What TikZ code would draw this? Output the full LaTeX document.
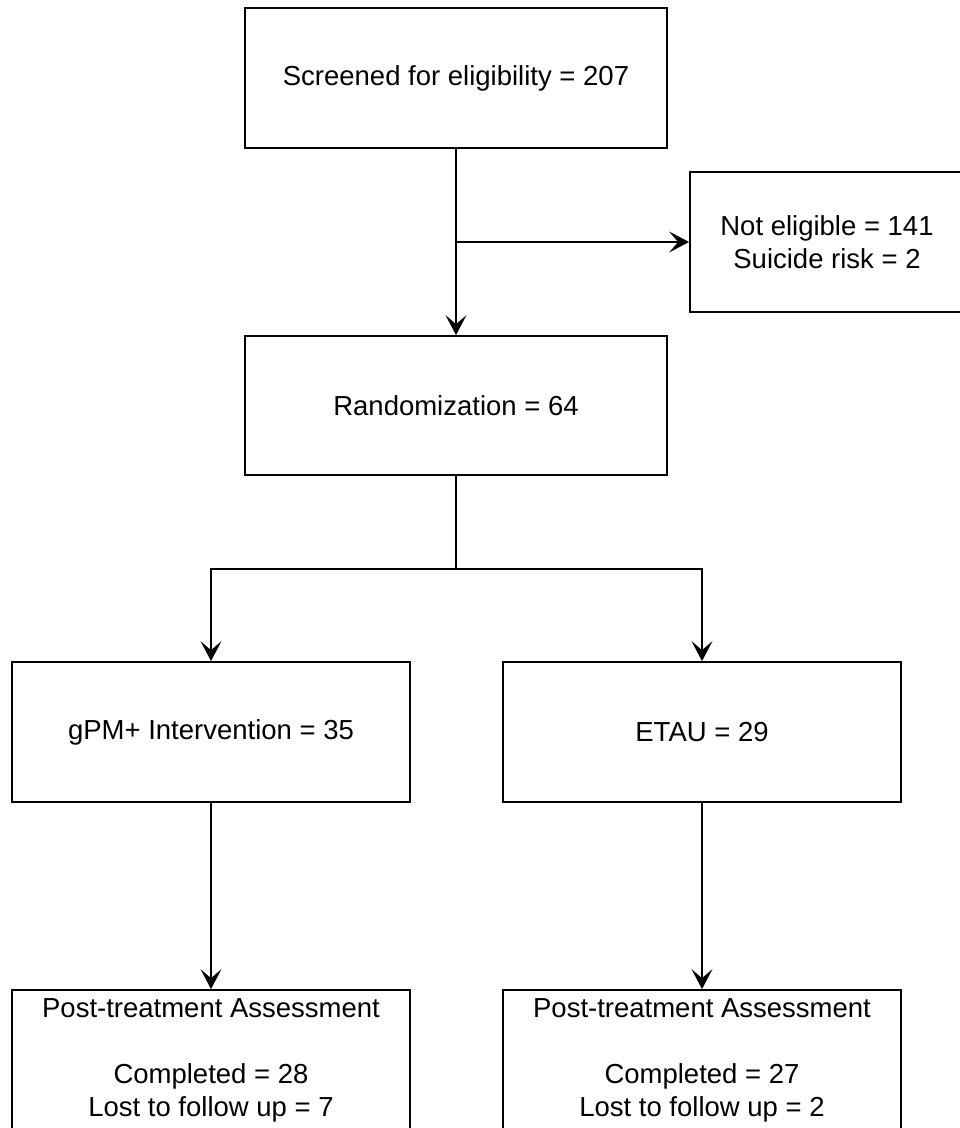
\documentclass[tikz,border=0pt]{standalone}
\usepackage{fontspec}
\setmainfont{Liberation Sans}
\newcommand\mydowntip[1]{\fill[black] (#1) -- ++(-10.5,-20) -- ++(10.5,9) -- ++(10.5,-9) -- cycle;}
\newcommand\myrighttip[1]{\fill[black] (#1) -- ++(-20,-10.5) -- ++(9,10.5) -- ++(-9,10.5) -- cycle;}
\begin{document}
\begin{tikzpicture}[x=1pt,y=-1pt,
  box/.style={draw=black, line width=1.8pt, inner sep=0pt, align=center,
    font=\fontsize{27.5}{33}\selectfont, fill=white},
  conn/.style={draw=black, line width=1.8pt},
  arr/.style={conn, shorten >=10pt}]
\useasboundingbox[fill=white] (0,0) rectangle (960,1128);
\node[box, minimum width=422pt, minimum height=140pt] (screen) at (456,78) {Screened for eligibility = 207};
\node[box, minimum width=274pt, minimum height=140pt] (ne) at (827,242) {Not eligible = 141\\Suicide risk = 2};
\node[box, minimum width=422pt, minimum height=139pt] (rand) at (456,405.5) {Randomization = 64};
\node[box, minimum width=398pt, minimum height=140pt] (gpm) at (211,732) {gPM+ Intervention = 35};
\node[box, minimum width=398pt, minimum height=140pt] (etau) at (702,732) {ETAU = 29};
\node[box, minimum width=398pt, minimum height=140pt] (post1) at (211,1060) {Post-treatment Assessment\\[33pt]Completed = 28\\Lost to follow up = 7};
\node[box, minimum width=398pt, minimum height=140pt] (post2) at (702,1060) {Post-treatment Assessment\\[33pt]Completed = 27\\Lost to follow up = 2};
\coordinate (j1) at (screen.south |- ne.west);
\coordinate (split) at (456,569);
\draw[arr] (screen.south) -- (rand.north);
\draw[arr] (j1) -- (ne.west);
\draw[conn] (rand.south) -- (split);
\draw[arr] (split) -| (gpm.north);
\draw[arr] (split) -| (etau.north);
\draw[arr] (gpm.south) -- (post1.north);
\draw[arr] (etau.south) -- (post2.north);
\mydowntip{rand.north}
\myrighttip{ne.west}
\mydowntip{gpm.north}
\mydowntip{etau.north}
\mydowntip{post1.north}
\mydowntip{post2.north}
\end{tikzpicture}
\end{document}
